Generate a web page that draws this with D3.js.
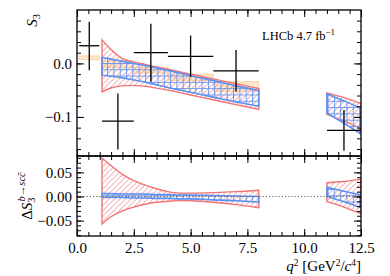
<!DOCTYPE html>
<html>
<head>
<meta charset="utf-8">
<title>S3 LHCb</title>
<script src="https://cdn.jsdelivr.net/npm/d3@7"></script>
<style>
  body { margin: 0; background: #fff; }
  text { font-family: "Liberation Serif", "DejaVu Serif", serif; }
</style>
</head>
<body>
<div id="chart"></div>
<script>
// measured S3 in q2 bins
const binLo = [0.1, 1.1, 2.5, 4.0, 6.0, 11.0];
const binHi = [0.98, 2.5, 4.0, 6.0, 8.0, 12.5];
const s3Val = [0.033, -0.108, 0.020, 0.013, -0.014, -0.125];
const s3Up  = [0.045, 0.052, 0.054, 0.039, 0.039, 0.038];
const s3Dn  = [0.046, 0.053, 0.054, 0.038, 0.039, 0.038];

// SM boxes (orange)
const smLo  = [0.1, 1.1, 2.5, 4.0, 6.0];
const smHi  = [0.98, 2.5, 4.0, 6.0, 8.0];
const smMin = [0.007, -0.008, -0.018, -0.032, -0.052];
const smMax = [0.014, 0.005, -0.007, -0.020, -0.034];

// bands, upper panel
const qA = [1.1, 1.5, 2.0, 2.5, 3.0, 4.0, 5.0, 6.0, 7.0, 8.0];
const blueTopA = [0.011, 0.008, 0.004, 0.000, -0.004, -0.013, -0.023, -0.032, -0.042, -0.051];
const blueBotA = [-0.022, -0.024, -0.027, -0.031, -0.035, -0.045, -0.054, -0.063, -0.072, -0.080];
const redTopA  = [0.044, 0.026, 0.009, 0.003, -0.002, -0.011, -0.020, -0.029, -0.038, -0.047];
const redBotA  = [-0.053, -0.046, -0.042, -0.041, -0.043, -0.050, -0.059, -0.068, -0.077, -0.086];
const qB = [11.0, 11.75, 12.5];
const blueTopB = [-0.057, -0.070, -0.084];
const blueBotB = [-0.093, -0.112, -0.132];
const redTopB  = [-0.055, -0.064, -0.075];
const redBotB  = [-0.095, -0.108, -0.122];

// bands, lower panel (Delta S3)
const qC = [1.1, 1.5, 2.0, 2.5, 3.0, 3.5, 4.0, 4.5, 5.0, 6.0, 7.0, 8.0];
const dRedTopC  = [0.080, 0.064, 0.046, 0.033, 0.0235, 0.016, 0.010, 0.007, 0.007, 0.008, 0.010, 0.013];
const dRedBotC  = [-0.057, -0.042, -0.030, -0.022, -0.016, -0.012, -0.010, -0.0085, -0.009, -0.012, -0.017, -0.0235];
const dBlueTopC = [0.006, 0.006, 0.005, 0.005, 0.005, 0.004, 0.004, 0.003, 0.003, 0.002, 0.001, 0.000];
const dBlueBotC = [-0.0015, -0.002, -0.002, -0.003, -0.003, -0.004, -0.004, -0.005, -0.005, -0.007, -0.009, -0.012];
const qD = [11.0, 11.75, 12.5];
const dRedTopD  = [0.0286, 0.031, 0.036];
const dRedBotD  = [-0.0107, -0.022, -0.036];
const dBlueTopD = [0.019, 0.011, 0.0036];
const dBlueBotD = [0.0, -0.011, -0.0235];

const xMajor = [0, 2.5, 5, 7.5, 10, 12.5];
const y1Major = [-0.1, 0.0];
const y2Major = [-0.05, 0.0, 0.05];

let W = 390, H = 276;
let left = 77, right = 361, top1 = 10, bot1 = 156, bot2 = 236;

let svg = d3.select("#chart").append("svg")
    .attr("width", W).attr("height", H);

let x = d3.scaleLinear().domain([0, 12.5]).range([left, right]);
let y1 = d3.scaleLinear().domain([-0.173, 0.0998]).range([bot1, top1]);
let y2 = d3.scaleLinear().domain([-0.082, 0.084]).range([bot2, bot1]);

let xMinor = d3.range(0, 12.51, 0.5);
let y1Minor = d3.range(-16, 9, 2).map(d => d / 100);
let y2Minor = d3.range(-8, 9, 1).map(d => d / 100);

// hatch patterns
let defs = svg.append("defs");
let hs = 5.5;
defs.append("pattern").attr("id", "redHatch")
    .attr("patternUnits", "userSpaceOnUse")
    .attr("width", hs).attr("height", hs)
  .append("path")
    .attr("d", `M0,${hs} L${hs},0 M${-hs/2},${hs/2} L${hs/2},${-hs/2} M${hs/2},${hs*1.5} L${hs*1.5},${hs/2}`)
    .attr("stroke", "#f28b8b").attr("stroke-width", 0.9);
let gs = 6.3;
defs.append("pattern").attr("id", "blueGrid")
    .attr("patternUnits", "userSpaceOnUse")
    .attr("width", gs).attr("height", gs)
  .append("path")
    .attr("d", `M0,0.5 H${gs} M0.5,0 V${gs}`)
    .attr("stroke", "#6a98ee").attr("stroke-width", 1);

defs.append("clipPath").attr("id", "clip1").append("rect")
    .attr("x", left).attr("y", top1).attr("width", right - left).attr("height", bot1 - top1);
defs.append("clipPath").attr("id", "clip2").append("rect")
    .attr("x", left).attr("y", bot1).attr("width", right - left).attr("height", bot2 - bot1);

function band(g, y, q, lo, hi, cls) {
    let data = q.map((d, i) => [d, lo[i], hi[i]]);
    let area = d3.area()
        .x(d => x(d[0]))
        .y0(d => y(d[1]))
        .y1(d => y(d[2]))
        .curve(d3.curveMonotoneX);
    let p = g.append("path").datum(data).attr("d", area);
    if (cls == "red") {
        p.attr("fill", "url(#redHatch)").attr("stroke", "#f07474").attr("stroke-width", 1.4);
    } else {
        p.attr("fill", "url(#blueGrid)").attr("stroke", "#5b8ff0").attr("stroke-width", 1.6);
    }
}

// upper panel
let p1 = svg.append("g").attr("clip-path", "url(#clip1)");

p1.selectAll("rect.sm")
    .data(smLo.map((d, i) => [d, smHi[i], smMin[i], smMax[i]]))
    .enter().append("rect")
    .attr("x", d => x(d[0]))
    .attr("width", d => x(d[1]) - x(d[0]))
    .attr("y", d => y1(d[3]))
    .attr("height", d => y1(d[2]) - y1(d[3]))
    .attr("fill", "#fdb462").attr("fill-opacity", 0.3)
    .attr("stroke", "#fdb462").attr("stroke-opacity", 0.5).attr("stroke-width", 1);

band(p1, y1, qA, redBotA, redTopA, "red");
band(p1, y1, qB, redBotB, redTopB, "red");
band(p1, y1, qA, blueBotA, blueTopA, "blue");
band(p1, y1, qB, blueBotB, blueTopB, "blue");

let pts = binLo.map((d, i) => ({lo: d, hi: binHi[i], v: s3Val[i], up: s3Up[i], dn: s3Dn[i]}));
p1.selectAll("line.h").data(pts).enter().append("line")
    .attr("x1", d => x(d.lo)).attr("x2", d => x(d.hi))
    .attr("y1", d => y1(d.v)).attr("y2", d => y1(d.v))
    .attr("stroke", "#000").attr("stroke-width", 1.3);
p1.selectAll("line.v").data(pts).enter().append("line")
    .attr("x1", d => x((d.lo + d.hi) / 2)).attr("x2", d => x((d.lo + d.hi) / 2))
    .attr("y1", d => y1(d.v + d.up)).attr("y2", d => y1(d.v - d.dn))
    .attr("stroke", "#000").attr("stroke-width", 1.3);

// lower panel
let p2 = svg.append("g").attr("clip-path", "url(#clip2)");
band(p2, y2, qC, dRedBotC, dRedTopC, "red");
band(p2, y2, qD, dRedBotD, dRedTopD, "red");
band(p2, y2, qC, dBlueBotC, dBlueTopC, "blue");
band(p2, y2, qD, dBlueBotD, dBlueTopD, "blue");
p2.append("line")
    .attr("x1", left).attr("x2", right)
    .attr("y1", y2(0)).attr("y2", y2(0))
    .attr("stroke", "#666").attr("stroke-width", 1.1)
    .attr("stroke-dasharray", "1.2,2");

// axes
function axes(y, yMaj, yMin, fmt, xLabels) {
    let yTop = y.range()[1], yBot = y.range()[0];
    let sets = [
        [d3.axisLeft(y).tickValues(yMaj).tickSize(-7).tickPadding(5).tickFormat(d3.format(fmt)), left, 0],
        [d3.axisLeft(y).tickValues(yMin).tickSize(-4).tickFormat(""), left, 0],
        [d3.axisRight(y).tickValues(yMaj).tickSize(-7).tickFormat(""), right, 0],
        [d3.axisRight(y).tickValues(yMin).tickSize(-4).tickFormat(""), right, 0],
        [d3.axisTop(x).tickValues(xMajor).tickSize(-7).tickFormat(""), 0, yTop],
        [d3.axisTop(x).tickValues(xMinor).tickSize(-4).tickFormat(""), 0, yTop],
        [d3.axisBottom(x).tickValues(xMajor).tickSize(-7).tickPadding(6)
            .tickFormat(xLabels ? d3.format(".1f") : ""), 0, yBot],
        [d3.axisBottom(x).tickValues(xMinor).tickSize(-4).tickFormat(""), 0, yBot]
    ];
    sets.forEach(s => {
        let g = svg.append("g")
            .attr("transform", "translate(" + s[1] + "," + s[2] + ")")
            .call(s[0]);
        g.select(".domain").remove();
        g.selectAll("line").attr("stroke", "#000").attr("stroke-width", 1);
        g.selectAll("text")
            .attr("font-family", "Liberation Serif, serif")
            .attr("font-size", 15).attr("fill", "#000");
    });
    svg.append("rect")
        .attr("x", left).attr("y", yTop)
        .attr("width", right - left).attr("height", yBot - yTop)
        .attr("fill", "none").attr("stroke", "#000").attr("stroke-width", 1.3);
}
axes(y1, y1Major, y1Minor, ".1f", false);
axes(y2, y2Major, y2Minor, ".2f", true);

// labels
let lab1 = svg.append("text")
    .attr("transform", "translate(37,14) rotate(-90)")
    .attr("text-anchor", "end").attr("font-size", 15);
lab1.append("tspan").attr("font-style", "italic").text("S");
lab1.append("tspan").attr("font-size", 10.5).attr("dy", 3).text("3");

let lab2 = svg.append("text")
    .attr("transform", "translate(32,196) rotate(-90)")
    .attr("text-anchor", "middle").attr("font-size", 15);
lab2.append("tspan").text("Δ");
lab2.append("tspan").attr("font-style", "italic").text("S");
lab2.append("tspan").attr("font-size", 10.5).attr("dy", 3).text("3");
lab2.append("tspan").attr("font-size", 10.5).attr("dy", -10).attr("dx", -4)
    .attr("font-style", "italic").text("b");
lab2.append("tspan").attr("font-size", 10.5).text("→");
lab2.append("tspan").attr("font-size", 10.5).attr("font-style", "italic").text("sc\u0063\u0304");

let xl = svg.append("text")
    .attr("x", right).attr("y", 271)
    .attr("text-anchor", "end").attr("font-size", 15);
xl.append("tspan").attr("font-style", "italic").text("q");
xl.append("tspan").attr("font-size", 9.5).attr("dy", -5).text("2");
xl.append("tspan").attr("dy", 5).text(" [GeV");
xl.append("tspan").attr("font-size", 9.5).attr("dy", -5).text("2");
xl.append("tspan").attr("dy", 5).text("/");
xl.append("tspan").attr("font-style", "italic").text("c");
xl.append("tspan").attr("font-size", 9.5).attr("dy", -5).text("4");
xl.append("tspan").attr("dy", 5).text("]");

let lhcb = svg.append("text")
    .attr("x", 262).attr("y", 40).attr("font-size", 12.5);
lhcb.append("tspan").text("LHCb 4.7 fb");
lhcb.append("tspan").attr("font-size", 9).attr("dy", -5).text("−1");
</script>
</body>
</html>
